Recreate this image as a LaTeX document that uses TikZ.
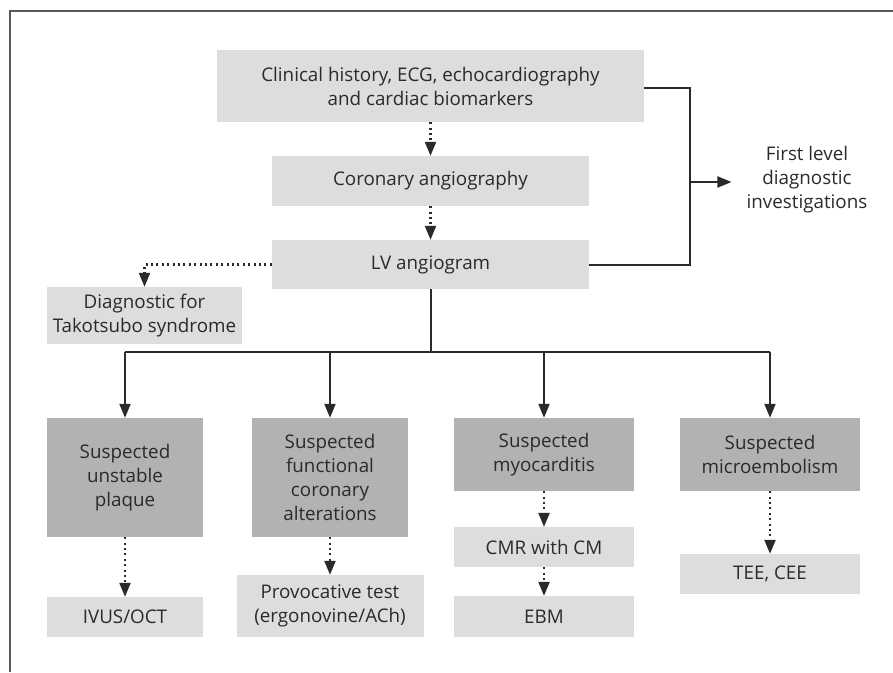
\documentclass[tikz,border=0pt]{standalone}
\usepackage{fontspec}
\setmainfont{Open Sans}
\usetikzlibrary{arrows.meta}
\definecolor{lightbox}{HTML}{DCDDDF}
\definecolor{darkbox}{HTML}{B1B2B4}
\definecolor{ink}{HTML}{2A2A2A}
\definecolor{framegray}{HTML}{5A5A5A}
\tikzset{
  base/.style={rectangle, inner sep=0pt, align=center, text=ink,
    font=\fontsize{18.8}{24}\selectfont},
  lightnode/.style={base, fill=lightbox},
  darknode/.style={base, fill=darkbox},
  solidline/.style={draw=ink, line width=2pt},
  dotline/.style={draw=ink, line width=2.2pt, dash pattern=on 2pt off 3.4pt},
  tip/.style={-{Triangle[length=14pt,width=11pt]}},
}
\begin{document}
\begin{tikzpicture}[x=1pt,y=-1pt]
\useasboundingbox (0,0) rectangle (893,672);
% frame
\draw[framegray, line width=1.6pt] (10,672) -- (10,11) -- (893,11);

\node[lightnode, minimum width=427pt, minimum height=72pt] (top) at (430.5,86)
  {Clinical history, ECG, echocardiography\\and cardiac biomarkers};
\node[lightnode, minimum width=317pt, minimum height=50pt] (cor) at (430.5,181) {Coronary angiography};
\node[lightnode, minimum width=317pt, minimum height=49pt] (lv) at (430.5,264.5) {LV angiogram};
\node[lightnode, minimum width=195pt, minimum height=57pt] (tako) at (144.5,315.5) {Diagnostic for\\Takotsubo syndrome};

\node[darknode, minimum width=156pt, minimum height=119pt] (s1) at (125,477.5) {Suspected\\unstable\\plaque};
\node[darknode, minimum width=156pt, minimum height=119pt] (s2) at (330,477.5) {Suspected\\functional\\coronary\\alterations};
\node[darknode, minimum width=180pt, minimum height=73pt] (s3) at (544,454.5) {Suspected\\myocarditis};
\node[darknode, minimum width=180pt, minimum height=73pt] (s4) at (770,454.5) {Suspected\\microembolism};

\node[lightnode, minimum width=156pt, minimum height=40pt] (ivus) at (125,617) {IVUS/OCT};
\node[lightnode, minimum width=187pt, minimum height=62pt] (prov) at (330,606) {Provocative test\\(ergonovine/ACh)};
\node[lightnode, minimum width=180pt, minimum height=40pt] (cmr) at (544,547) {CMR with CM};
\node[lightnode, minimum width=180pt, minimum height=41pt] (ebm) at (544,616.5) {EBM};
\node[lightnode, minimum width=180pt, minimum height=40pt] (tee) at (770,574) {TEE, CEE};

\node[base, inner xsep=15pt] (first) at (807,180) {First level\\diagnostic\\investigations};

% first level bracket
\coordinate (j1) at (690,88);
\coordinate (j2) at (690,264.5);
\coordinate (jm) at (690,182);
\draw[solidline] (top.east|-j1) -- (j1) -- (j2) -- (lv.east);
\draw[solidline, tip] (jm) -- (jm-|first.west);

% dotted vertical chain
\draw[dotline, tip] (top.south) -- (cor.north);
\draw[dotline, tip] (cor.south) -- (lv.north);
\draw[dotline, tip] (lv.west) -| (tako.north);

% bus
\coordinate (bus) at (431,352);
\draw[solidline] (lv.south) -- (lv.south|-bus);
\draw[solidline] (s1.north|-bus) -- (s4.north|-bus);
\foreach \n in {s1,s2,s3,s4}{
  \draw[solidline, tip] (\n.north|-bus) -- (\n.north);
}

% second level
\draw[dotline, tip] (s1.south) -- (ivus.north);
\draw[dotline, tip] (s2.south) -- (prov.north);
\draw[dotline, tip] (s3.south) -- (cmr.north);
\draw[dotline, tip] (cmr.south) -- (ebm.north);
\draw[dotline, tip] (s4.south) -- (tee.north);
\end{tikzpicture}
\end{document}
